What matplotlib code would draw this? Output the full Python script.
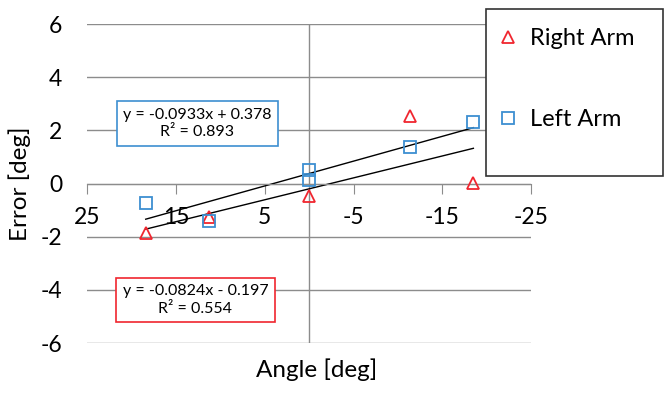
import matplotlib.pyplot as plt
from matplotlib.patches import Rectangle
import numpy as np

plt.rcParams['font.family'] = ['Lato', 'DejaVu Sans']
plt.rcParams['axes.unicode_minus'] = False

# データ (角度 [deg], 誤差 [deg])
right_angle = [18.4, 11.3, 0, -11.4, -18.5]
right_error = [-1.87, -1.27, -0.45, 2.54, 0.02]
left_angle = [18.4, 11.3, 0, 0, -11.4, -18.5]
left_error = [-0.73, -1.40, 0.53, 0.12, 1.38, 2.31]

# 近似直線 (傾き, 切片, R2)
right_fit = (-0.0824, -0.197, 0.554)
left_fit = (-0.0933, 0.378, 0.893)

x_ticks = [25, 15, 5, -5, -15, -25]
y_ticks = [-6, -4, -2, 0, 2, 4, 6]

red = '#f0262f'
blue = '#3d8fd1'
grid_gray = '#8c8c8c'

fig = plt.figure(figsize=(6.7, 4.08), dpi=100)
ax = fig.add_axes([0.13, 0.159, 0.6627, 0.782])

ax.set_xlim(25, -25)
ax.set_ylim(-6, 6)

# グリッドと軸
for y in y_ticks:
    ax.axhline(y, color=grid_gray, linewidth=1, zorder=0)
ax.axvline(0, color=grid_gray, linewidth=1, zorder=0)

for s in ['top', 'right', 'left']:
    ax.spines[s].set_visible(False)
ax.spines['bottom'].set_position(('data', 0))
ax.spines['bottom'].set_color(grid_gray)

ax.set_xticks(x_ticks)
ax.set_yticks(y_ticks)
ax.tick_params(axis='x', direction='out', length=7, color=grid_gray, labelsize=16.5, pad=10)
ax.tick_params(axis='y', length=0, labelsize=16.5, pad=18)

# 近似直線
for ang, (m, b, r2) in [(right_angle, right_fit), (left_angle, left_fit)]:
    xs = np.array([max(ang), min(ang)])
    ax.plot(xs, m * xs + b, color='black', linewidth=1, zorder=2)

# データ点
ax.plot(right_angle, right_error, linestyle='none', marker='^', markersize=8,
        markerfacecolor='none', markeredgecolor=red, markeredgewidth=1.3,
        label='Right Arm', zorder=3)
ax.plot(left_angle, left_error, linestyle='none', marker='s', markersize=8,
        markerfacecolor='none', markeredgecolor=blue, markeredgewidth=1.3,
        label='Left Arm', zorder=3)

# 近似式
ax.text(12.6, 2.26, 'y = %.4fx + %.3f\nR² = %.3f' % left_fit, ha='center', va='center',
        fontsize=11.5, linespacing=1.3, zorder=4,
        bbox=dict(boxstyle='square,pad=0.4', facecolor='white', edgecolor=blue, linewidth=1.2))
ax.text(12.8, -4.38, 'y = %.4fx - %.3f\nR² = %.3f' % (right_fit[0], -right_fit[1], right_fit[2]),
        ha='center', va='center', fontsize=11.5, linespacing=1.3, zorder=4,
        bbox=dict(boxstyle='square,pad=0.4', facecolor='white', edgecolor=red, linewidth=1.2))

fig.text(317 / 670, 1 - 370 / 408, 'Angle [deg]', fontsize=17.5, ha='center', va='center')
fig.text(20 / 670, 1 - 184 / 408, 'Error [deg]', fontsize=17.5, ha='center', va='center',
         rotation=90)

# 凡例
fig.patches.append(Rectangle((486 / 670, 1 - 176 / 408), 177 / 670, 167 / 408,
                             transform=fig.transFigure, facecolor='white',
                             edgecolor='#333333', linewidth=1.2, zorder=5))
leg = fig.legend(loc='upper left', bbox_to_anchor=(0.727, 0.955), frameon=False,
                 fontsize=17, labelspacing=2.55, handlelength=1.0, handletextpad=0.4,
                 borderaxespad=0)
leg.set_zorder(6)

fig.savefig('out.png', dpi=100)
